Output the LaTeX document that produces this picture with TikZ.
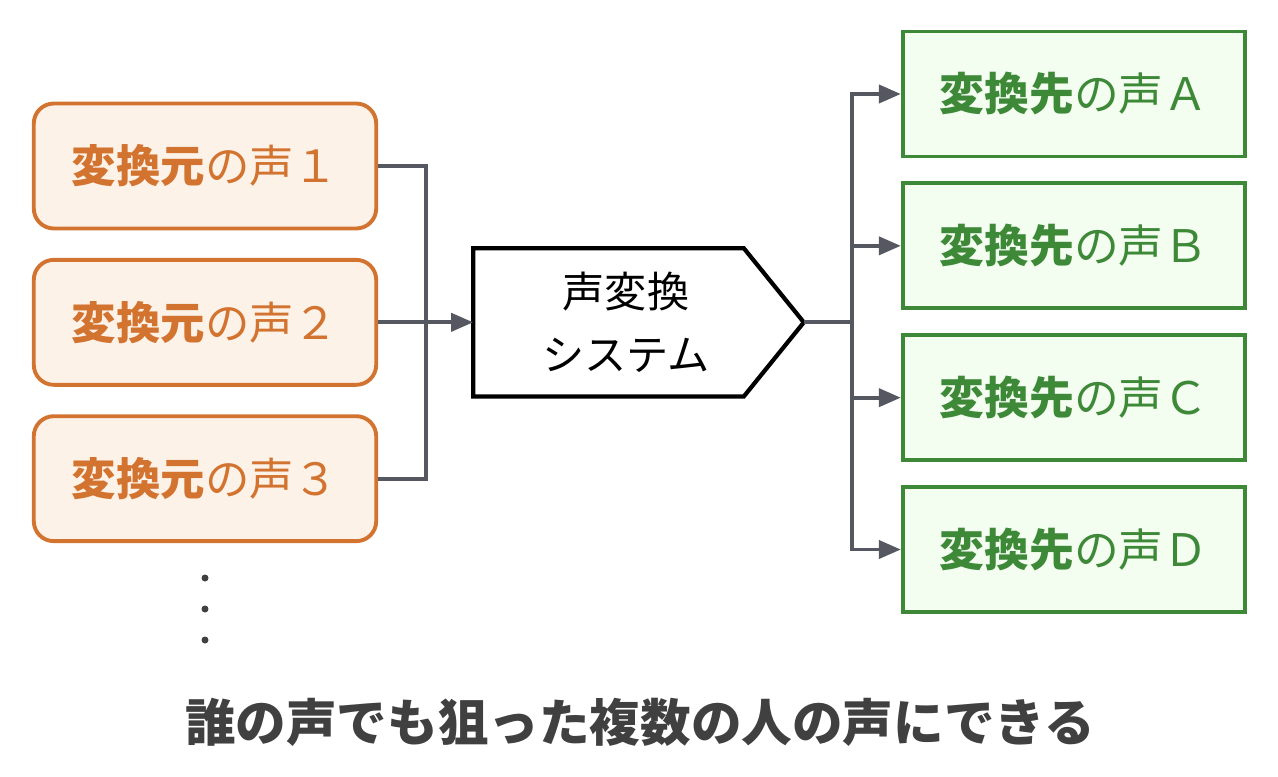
\documentclass[tikz,border=0pt]{standalone}
\usepackage{fontspec}
\setmainfont{Noto Sans CJK JP}
\usepackage{tikz}
\usetikzlibrary{arrows.meta,positioning}

\definecolor{srcline}{RGB}{211,115,48}
\definecolor{srcfill}{RGB}{252,242,232}
\definecolor{dstline}{RGB}{61,137,56}
\definecolor{dstfill}{RGB}{243,253,240}
\definecolor{connc}{RGB}{85,88,96}
\definecolor{capc}{RGB}{64,64,64}

\tikzset{
  srcbox/.style={draw=srcline,fill=srcfill,line width=2.2pt,rounded corners=0.4cm,
    minimum width=6.85cm,minimum height=2.5cm,text=srcline,font=\fontsize{25.3}{30}\selectfont},
  dstbox/.style={draw=dstline,fill=dstfill,line width=2.2pt,
    minimum width=6.85cm,minimum height=2.5cm,text=dstline,font=\fontsize{25.5}{30}\selectfont},
  conn/.style={draw=connc,line width=2.2pt},
}

\begin{document}
\begin{tikzpicture}[x=0.02cm,y=-0.02cm,>={Triangle[length=0.44cm,width=0.36cm]}]
      \useasboundingbox (0,0) rectangle (1278,777);

      % sources
      \node[srcbox] (src1) at (205,166) {\textbf{変換元}の声１};
      \node[srcbox] (src2) [below=0.55cm of src1] {\textbf{変換元}の声２};
      \node[srcbox] (src3) [below=0.55cm of src2] {\textbf{変換元}の声３};
      \foreach \y in {578,609,640}
        \fill[capc] (205,\y) circle (0.07cm);

      % converter
      \node[minimum width=6.6cm,minimum height=2.95cm] (conv) at (src2.center -| 638.5,0) {};
      \draw[line width=2.4pt,line join=miter]
        (conv.north west) -- ([xshift=-1.2cm]conv.north east) -- (conv.east)
        -- ([xshift=-1.2cm]conv.south east) -- (conv.south west) -- cycle;
      \node[align=center,font=\fontsize{24}{36}\selectfont] (convtxt)
        at ([xshift=-0.25cm]conv.center) {声変換\\システム};

      % targets
      \node[dstbox] (dstA) at (1074,94) {\textbf{変換先}の声Ａ};
      \node[dstbox] (dstB) [below=0.46cm of dstA] {\textbf{変換先}の声Ｂ};
      \node[dstbox] (dstC) [below=0.46cm of dstB] {\textbf{変換先}の声Ｃ};
      \node[dstbox] (dstD) [below=0.46cm of dstC] {\textbf{変換先}の声Ｄ};

      \coordinate (jl) at ([xshift=0.96cm]src2.east);
      \coordinate (jr) at ([xshift=0.96cm]conv.east);

      \path[conn]
      (src1.east) -| (jl)
      (src3.east) -| (jl)
      (conv.east) -- (jr);
      \path[conn,->] (src2.east) -- (conv.west);
      \foreach \d in {dstA,dstB,dstC,dstD}
        \path[conn,->] (jr) |- (\d.west);

      \node[text=capc,font=\fontsize{28.8}{32}\selectfont\bfseries] (cap) at (640,722)
        {誰の声でも狙った複数の人の声にできる};
    \end{tikzpicture}
\end{document}
